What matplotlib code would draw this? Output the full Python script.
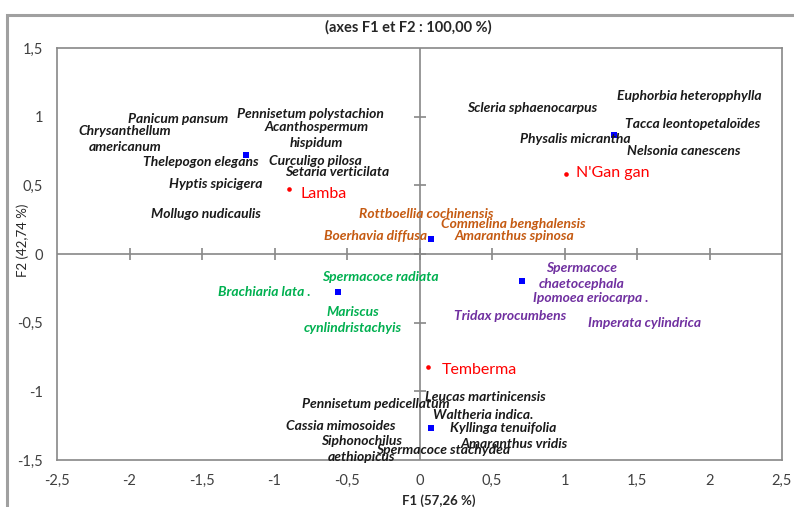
import matplotlib.pyplot as plt
from matplotlib.patches import Rectangle

FONT = 'Lato'
plt.rcParams['font.family'] = [FONT, 'DejaVu Sans']

# group centroids (blue squares)
centroid_x = [-1.20, 1.34, 0.08, -0.56, 0.71, 0.08]
centroid_y = [0.72, 0.87, 0.11, -0.28, -0.20, -1.27]

# sites (red dots)
site_names = ['Lamba', "N'Gan gan", 'Temberma']
site_x = [-0.90, 1.01, 0.06]
site_y = [0.47, 0.58, -0.82]
site_label_x = [-0.82, 1.08, 0.15]
site_label_y = [0.44, 0.59, -0.845]

# species labels: name, x, y, group
black_names = ['Panicum pansum', 'Pennisetum polystachion', 'Chrysanthellum\namericanum',
               'Acanthospermum\nhispidum', 'Thelepogon elegans', 'Curculigo pilosa',
               'Setaria verticilata', 'Hyptis spicigera', 'Mollugo nudicaulis',
               'Euphorbia heteropphylla', 'Scleria sphaenocarpus', 'Tacca leontopetaloïdes',
               'Physalis micrantha', 'Nelsonia canescens',
               'Leucas martinicensis', 'Pennisetum pedicellatum', 'Waltheria indica.',
               'Cassia mimosoides', 'Kyllinga tenuifolia', 'Siphonochilus\naethiopicus',
               'Amaranthus vridis', 'Spermacoce stachydea']
black_x = [-2.01, -1.26, -2.03, -0.71, -1.91, -1.04, -0.93, -1.73, -1.85,
           1.36, 0.33, 1.42, 0.69, 1.43,
           0.04, -0.81, 0.09, -0.92, 0.21, -0.40, 0.28, -0.30]
black_y = [0.98, 1.02, 0.84, 0.87, 0.67, 0.68, 0.60, 0.51, 0.29,
           1.15, 1.06, 0.95, 0.84, 0.75,
           -1.04, -1.09, -1.17, -1.25, -1.27, -1.42, -1.38, -1.43]

orange_names = ['Rottboellia cochinensis', 'Commelina benghalensis',
                'Boerhavia diffusa', 'Amaranthus spinosa']
orange_x = [-0.42, 0.15, -0.66, 0.24]
orange_y = [0.29, 0.22, 0.13, 0.13]

green_names = ['Spermacoce radiata', 'Brachiaria lata .', 'Mariscus\ncynlindristachyis']
green_x = [-0.67, -1.39, -0.46]
green_y = [-0.17, -0.28, -0.48]

purple_names = ['Spermacoce\nchaetocephala', 'Ipomoea eriocarpa .',
                'Tridax procumbens', 'Imperata cylindrica']
purple_x = [1.12, 0.78, 0.24, 1.16]
purple_y = [-0.16, -0.32, -0.45, -0.50]

ticks = [-2.5, -2, -1.5, -1, -0.5, 0, 0.5, 1, 1.5, 2, 2.5]
yticks = [-1.5, -1, -0.5, 0, 0.5, 1, 1.5]


def fmt(v):
    s = f'{v:g}'.replace('.', ',')
    return s


fig = plt.figure(figsize=(7.94, 5.07), dpi=100)
fig.add_artist(Rectangle((7 / 794, -0.2), 1.2, 1.2 - 15 / 507, transform=fig.transFigure,
                         fill=False, edgecolor='#a0a0a0', lw=2.2))
ax = fig.add_axes([57 / 794, 47 / 507, 725 / 794, 412 / 507])
axis_color = '#888888'
for sp in ax.spines.values():
    sp.set_color(axis_color)
    sp.set_linewidth(1.2)
ax.set_xlim(-2.5, 2.5)
ax.set_ylim(-1.5, 1.5)
ax.set_xticks(ticks, [fmt(t) for t in ticks])
ax.set_yticks(yticks, [fmt(t) for t in yticks])
ax.tick_params(length=0, labelsize=10.5, labelcolor='#404040', pad=10)

ax.axhline(0, color=axis_color, lw=1.2, zorder=1)
ax.axvline(0, color=axis_color, lw=1.2, zorder=1)
ax.plot(ticks[1:-1], [0] * (len(ticks) - 2), ls='none', marker='|', ms=9,
        mew=1.2, color=axis_color, zorder=1)
ax.plot([0] * (len(yticks) - 2), yticks[1:-1], ls='none', marker='_', ms=9,
        mew=1.2, color=axis_color, zorder=1)

ax.scatter(centroid_x, centroid_y, marker='s', s=14, color='#0000ff', zorder=3, lw=0)
ax.scatter(site_x, site_y, marker='o', s=11, color='#ff0000', zorder=3, lw=0)
for name, x, y in zip(site_names, site_label_x, site_label_y):
    ax.text(x, y, name, color='#ff0000', fontsize=11.5, va='center', ha='left')

groups = [(black_names, black_x, black_y, '#1a1a1a'),
          (orange_names, orange_x, orange_y, '#c55a11'),
          (green_names, green_x, green_y, '#00b050'),
          (purple_names, purple_x, purple_y, '#7030a0')]
for names, xs, ys, color in groups:
    for name, x, y in zip(names, xs, ys):
        ha = 'center' if '\n' in name else 'left'
        ax.text(x, y, name, color=color, fontsize=10, fontweight='bold',
                fontstyle='italic', va='center', ha=ha, multialignment='center',
                linespacing=1.4, zorder=4)

fig.text(408 / 794, 1 - 27 / 507, '(axes F1 et F2 : 100,00 %)', ha='center', va='center',
         fontsize=10.5, fontweight='bold', color='#262626')
fig.text(439 / 794, 1 - 501 / 507, 'F1 (57,26 %)', ha='center', va='center',
         fontsize=9.5, fontweight='bold', color='#262626')
fig.text(23 / 794, 1 - 240 / 507, 'F2 (42,74 %)', ha='center', va='center',
         fontsize=9.5, rotation=90, color='#262626')

fig.savefig('out.png', dpi=100)
